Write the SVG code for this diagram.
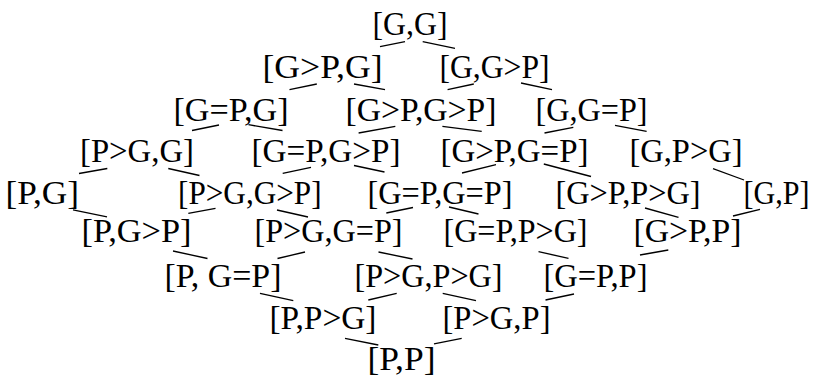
<svg xmlns="http://www.w3.org/2000/svg" width="817" height="376" viewBox="0 0 817 376">
<style>
text{font-family:"Liberation Serif","Times New Roman",serif;font-size:34px;fill:#000;text-anchor:middle}
line{stroke:#000;stroke-width:1.3;stroke-linecap:butt}
</style>
<rect width="817" height="376" fill="#fff"/>
<g id="connectors">
<line x1="380" y1="46.7" x2="405" y2="41.7"/>
<line x1="422.7" y1="41.7" x2="455" y2="48.3"/>
<line x1="289.5" y1="89.7" x2="316.8" y2="84"/>
<line x1="354" y1="84" x2="385" y2="89.7"/>
<line x1="447.6" y1="89.7" x2="473.8" y2="84"/>
<line x1="521" y1="83" x2="552" y2="89.7"/>
<line x1="192" y1="130.5" x2="219" y2="125"/>
<line x1="248.5" y1="124.7" x2="282.5" y2="130.5"/>
<line x1="358.6" y1="133" x2="395.3" y2="126.3"/>
<line x1="442.4" y1="126.3" x2="481.7" y2="131.3"/>
<line x1="544.5" y1="133" x2="573.3" y2="127.3"/>
<line x1="615" y1="125.3" x2="646.6" y2="131.3"/>
<line x1="79" y1="173.5" x2="107.3" y2="168.5"/>
<line x1="168.3" y1="168.5" x2="199.5" y2="175.5"/>
<line x1="282.7" y1="173.3" x2="311" y2="167.3"/>
<line x1="354" y1="165.5" x2="384.5" y2="172"/>
<line x1="462" y1="173" x2="496" y2="164.7"/>
<line x1="543.8" y1="164" x2="591" y2="176.5"/>
<line x1="713" y1="168.7" x2="744" y2="180"/>
<line x1="73" y1="209.8" x2="107" y2="216.8"/>
<line x1="188.3" y1="213.3" x2="215.5" y2="208.3"/>
<line x1="277" y1="210" x2="308" y2="217"/>
<line x1="386.3" y1="213" x2="413" y2="207.5"/>
<line x1="449" y1="207" x2="478.5" y2="214"/>
<line x1="645" y1="208" x2="678.5" y2="217.3"/>
<line x1="733" y1="216" x2="760" y2="209.3"/>
<line x1="173" y1="251" x2="207.5" y2="258.5"/>
<line x1="277.5" y1="258.5" x2="305" y2="252"/>
<line x1="378.5" y1="252" x2="412.5" y2="259"/>
<line x1="538.5" y1="251.7" x2="568.5" y2="258.3"/>
<line x1="640" y1="255" x2="668.3" y2="250"/>
<line x1="260" y1="293.3" x2="293.3" y2="300.7"/>
<line x1="368.3" y1="300" x2="396.7" y2="293.3"/>
<line x1="442.7" y1="293.3" x2="476" y2="300.7"/>
<line x1="545.5" y1="300" x2="574" y2="294"/>
<line x1="345" y1="338.3" x2="378.3" y2="345"/>
<line x1="434" y1="343.8" x2="461.7" y2="338.3"/>
</g>
<g id="n-GG"><text x="410" y="35" textLength="75" lengthAdjust="spacingAndGlyphs">[G,G]</text></g>
<g id="n-GgtP-G"><text x="322.5" y="77.5" textLength="120" lengthAdjust="spacingAndGlyphs">[G&gt;P,G]</text></g>
<g id="n-G-GgtP"><text x="494.5" y="77.5" textLength="110" lengthAdjust="spacingAndGlyphs">[G,G&gt;P]</text></g>
<g id="n-GeqP-G"><text x="231" y="120.5" textLength="115" lengthAdjust="spacingAndGlyphs">[G=P,G]</text></g>
<g id="n-GgtP-GgtP"><text x="421" y="120.5" textLength="151" lengthAdjust="spacingAndGlyphs">[G&gt;P,G&gt;P]</text></g>
<g id="n-G-GeqP"><text x="591.5" y="120.5" textLength="112" lengthAdjust="spacingAndGlyphs">[G,G=P]</text></g>
<g id="n-PgtG-G"><text x="137" y="161.5" textLength="114" lengthAdjust="spacingAndGlyphs">[P&gt;G,G]</text></g>
<g id="n-GeqP-GgtP"><text x="326" y="161.5" textLength="149" lengthAdjust="spacingAndGlyphs">[G=P,G&gt;P]</text></g>
<g id="n-GgtP-GeqP"><text x="514.5" y="161.5" textLength="148" lengthAdjust="spacingAndGlyphs">[G&gt;P,G=P]</text></g>
<g id="n-G-PgtG"><text x="686" y="161.5" textLength="113" lengthAdjust="spacingAndGlyphs">[G,P&gt;G]</text></g>
<g id="n-PG"><text x="42.3" y="203.5" textLength="73.5" lengthAdjust="spacingAndGlyphs">[P,G]</text></g>
<g id="n-PgtG-GgtP"><text x="249.8" y="203.5" textLength="143.5" lengthAdjust="spacingAndGlyphs">[P&gt;G,G&gt;P]</text></g>
<g id="n-GeqP-GeqP"><text x="440" y="203.5" textLength="145" lengthAdjust="spacingAndGlyphs">[G=P,G=P]</text></g>
<g id="n-GgtP-PgtG"><text x="628" y="203.5" textLength="145" lengthAdjust="spacingAndGlyphs">[G&gt;P,P&gt;G]</text></g>
<g id="n-GP"><text x="776.5" y="203.5" textLength="66" lengthAdjust="spacingAndGlyphs">[G,P]</text></g>
<g id="n-P-GgtP"><text x="136.5" y="242" textLength="110" lengthAdjust="spacingAndGlyphs">[P,G&gt;P]</text></g>
<g id="n-PgtG-GeqP"><text x="328.5" y="242" textLength="148" lengthAdjust="spacingAndGlyphs">[P&gt;G,G=P]</text></g>
<g id="n-GeqP-PgtG"><text x="515.5" y="242" textLength="144" lengthAdjust="spacingAndGlyphs">[G=P,P&gt;G]</text></g>
<g id="n-GgtP-P"><text x="687.5" y="242" textLength="108" lengthAdjust="spacingAndGlyphs">[G&gt;P,P]</text></g>
<g id="n-P-GeqP"><text x="223" y="287" textLength="117" lengthAdjust="spacingAndGlyphs">[P, G=P]</text></g>
<g id="n-PgtG-PgtG"><text x="428.5" y="287" textLength="148" lengthAdjust="spacingAndGlyphs">[P&gt;G,P&gt;G]</text></g>
<g id="n-GeqP-P"><text x="595.5" y="287" textLength="104" lengthAdjust="spacingAndGlyphs">[G=P,P]</text></g>
<g id="n-P-PgtG"><text x="323" y="329" textLength="107" lengthAdjust="spacingAndGlyphs">[P,P&gt;G]</text></g>
<g id="n-PgtG-P"><text x="496.5" y="329" textLength="108" lengthAdjust="spacingAndGlyphs">[P&gt;G,P]</text></g>
<g id="n-PP"><text x="401.5" y="369.5" textLength="68" lengthAdjust="spacingAndGlyphs">[P,P]</text></g>
</svg>
